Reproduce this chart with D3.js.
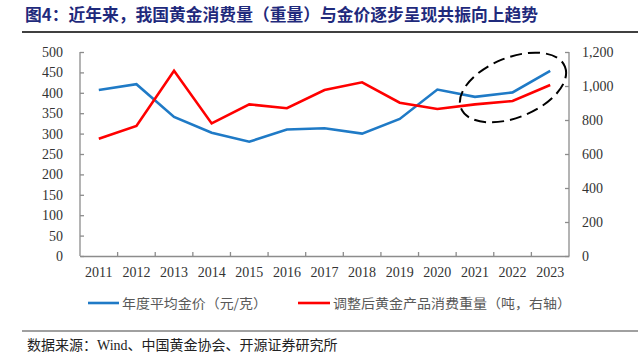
<!DOCTYPE html>
<html><head><meta charset="utf-8">
<script src="https://cdn.jsdelivr.net/npm/d3@7"></script>
<style>body{margin:0;background:#fff}svg{display:block}</style>
</head><body>
<svg id="c" width="640" height="354"></svg>
<script>
const years = ["2011","2012","2013","2014","2015","2016","2017","2018","2019","2020","2021","2022","2023"];
const goldPrice = [407, 421, 341, 302, 280, 310, 313, 300, 336, 408, 390, 401, 454];
const consumption = [690, 765, 1090, 780, 892, 869, 976, 1022, 902, 865, 892, 912, 1006];
const leftTicks = [0,50,100,150,200,250,300,350,400,450,500];
const rightTicks = [0,200,400,600,800,1000,1200];
const titleText = "图4：近年来，我国黄金消费量（重量）与金价逐步呈现共振向上趋势";
const legendNames = ["年度平均金价（元/克）","调整后黄金产品消费重量（吨，右轴）"];
const sourceParts = ["数据来源：","Wind","、中国黄金协会、开源证券研究所"];

const svg = d3.select("#c");
const L=80,R=569,T=52,B=256;
const serif = "'Liberation Serif','Times New Roman',serif";
const cjk = "'Noto Sans CJK SC','Noto Sans',sans-serif";
const axisColor = "#8c8c8c";

// title
svg.append("text").attr("x",25).attr("y",21).style("font-family",cjk).attr("font-weight",700)
  .attr("font-size",16.5).attr("fill","#1f2a7c").attr("textLength",513).attr("lengthAdjust","spacingAndGlyphs").text(titleText);
svg.append("line").attr("x1",22).attr("x2",638).attr("y1",32).attr("y2",32).attr("stroke","#000").attr("stroke-width",1.5);

const x = d3.scaleBand().domain(years).range([L,R]);
const yL = d3.scaleLinear().domain([0,500]).range([B,T]);
const yR = d3.scaleLinear().domain([0,1200]).range([B,T]);

// left axis
const gl = svg.append("g").attr("transform",`translate(${L},0)`)
  .call(d3.axisRight(yL).tickValues(leftTicks).tickSize(4).tickFormat(d3.format("d")));
gl.attr("font-family",null);
gl.select(".domain").remove();
gl.selectAll(".tick line").attr("stroke",axisColor).attr("stroke-width",1.3);
gl.selectAll(".tick text").attr("x",-17).attr("text-anchor","end").style("font-family",serif).style("font-size","14px").attr("fill","#333");
svg.append("line").attr("x1",L).attr("x2",L).attr("y1",T).attr("y2",B).attr("stroke",axisColor).attr("stroke-width",1.3);

// right axis
const gr = svg.append("g").attr("transform",`translate(${R},0)`)
  .call(d3.axisLeft(yR).tickValues(rightTicks).tickSize(4).tickFormat(d3.format(",")));
gr.attr("font-family",null);
gr.select(".domain").remove();
gr.selectAll(".tick line").attr("stroke",axisColor).attr("stroke-width",1.3);
gr.selectAll(".tick text").attr("x",13).attr("text-anchor","start").style("font-family",serif).style("font-size","14px").attr("fill","#333");
svg.append("line").attr("x1",R).attr("x2",R).attr("y1",T).attr("y2",B).attr("stroke",axisColor).attr("stroke-width",1.3);

// bottom axis
const gb = svg.append("g").attr("transform",`translate(0,${B})`)
  .call(d3.axisBottom(x).tickSize(0));
gb.attr("font-family",null);
gb.select(".domain").attr("stroke",axisColor).attr("stroke-width",1.3);
gb.selectAll(".tick text").attr("dy",0).attr("y",21).style("font-family",serif).style("font-size","14px").attr("fill","#333");
svg.append("g").selectAll("line").data(years.slice(1)).join("line")
  .attr("x1",d=>x(d)).attr("x2",d=>x(d)).attr("y1",B).attr("y2",B-4)
  .attr("stroke",axisColor).attr("stroke-width",1.3);

const cx = d=>x(d)+x.bandwidth()/2;
svg.append("path").datum(goldPrice).attr("fill","none").attr("stroke","#1f7ac6").attr("stroke-width",2.6)
  .attr("d",d3.line().x((d,i)=>cx(years[i])).y(d=>yL(d)));
svg.append("path").datum(consumption).attr("fill","none").attr("stroke","#ff0000").attr("stroke-width",2.6)
  .attr("d",d3.line().x((d,i)=>cx(years[i])).y(d=>yR(d)));

// dashed ellipse
svg.append("ellipse").attr("cx",513).attr("cy",87.5).attr("rx",56).attr("ry",30)
  .attr("transform","rotate(-22,513,87.5)").attr("fill","none").attr("stroke","#000")
  .attr("stroke-width",2).attr("stroke-dasharray","12,6");

// legend
const lg = svg.append("g");
lg.append("line").attr("x1",88).attr("x2",119).attr("y1",303).attr("y2",303).attr("stroke","#1f7ac6").attr("stroke-width",2.6);
lg.append("text").attr("x",122).attr("y",308).style("font-family",cjk).attr("font-size",13).attr("fill","#595959")
  .attr("textLength",145).attr("lengthAdjust","spacingAndGlyphs").text(legendNames[0]);
lg.append("line").attr("x1",298).attr("x2",330).attr("y1",303).attr("y2",303).attr("stroke","#ff0000").attr("stroke-width",2.6);
lg.append("text").attr("x",333).attr("y",308).style("font-family",cjk).attr("font-size",13).attr("fill","#595959")
  .attr("textLength",238).attr("lengthAdjust","spacingAndGlyphs").text(legendNames[1]);

// source
svg.append("line").attr("x1",22).attr("x2",638).attr("y1",331).attr("y2",331).attr("stroke","#808080").attr("stroke-width",1.3);
const st = svg.append("text").attr("x",27).attr("y",350).attr("font-size",14).attr("fill","#222");
st.append("tspan").style("font-family",cjk).text(sourceParts[0]);
st.append("tspan").style("font-family",serif).text(sourceParts[1]);
st.append("tspan").style("font-family",cjk).text(sourceParts[2]);
</script>
</body></html>
